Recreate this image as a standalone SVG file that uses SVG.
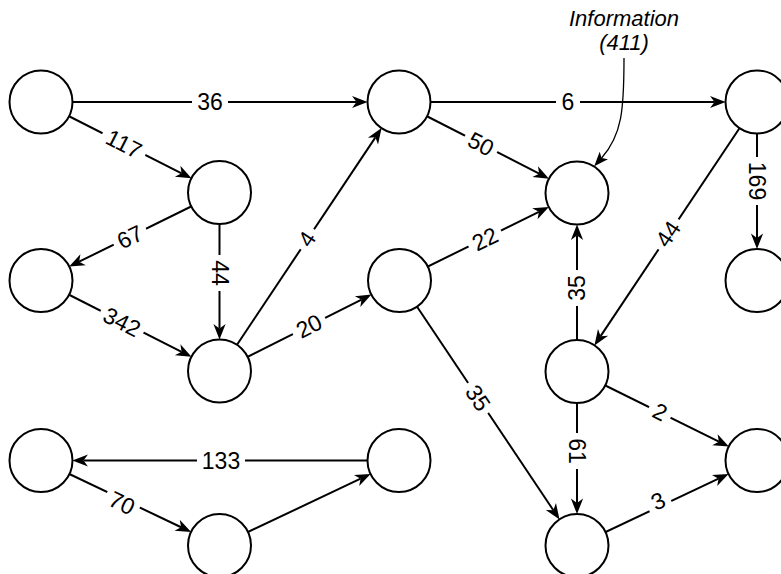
<svg xmlns="http://www.w3.org/2000/svg" width="781" height="574" viewBox="0 0 781 574">
<style>
.n{fill:#fff;stroke:#000;stroke-width:2}
.e{fill:none;stroke:#000;stroke-width:2;marker-end:url(#arr)}
.c{fill:none;stroke:#000;stroke-width:1.3;marker-end:url(#arr2)}
.bg{fill:#fff}
.t{font-family:"Liberation Sans",Arial,Helvetica,sans-serif;font-size:23px;fill:#000;text-anchor:middle}
.i{font-style:italic;font-size:22px}
</style>
<defs>
<marker id="arr" markerUnits="userSpaceOnUse" markerWidth="20" markerHeight="20" viewBox="-6 -8 18 16" refX="0" refY="0" orient="auto" overflow="visible">
<path d="M10,0 L-4,-5.5 L0,0 L-4,5.5 Z" fill="#000"/>
</marker>
<marker id="arr2" markerUnits="userSpaceOnUse" markerWidth="20" markerHeight="20" viewBox="-6 -8 18 16" refX="0" refY="0" orient="auto" overflow="visible">
<path d="M10,0 L-3,-5 L0,0 L-3,5 Z" fill="#000"/>
</marker>
</defs>
<rect width="781" height="574" fill="#fff"/>
<g id="connectors">
<path class="e" d="M41,102 L356.5,102"/>
<path class="e" d="M399,102 L714.5,102"/>
<path class="e" d="M41,102 L181.59,173.28"/>
<path class="e" d="M399,102 L539.16,173.65"/>
<path class="e" d="M219.5,192.5 L79.12,261.71"/>
<path class="e" d="M219.5,192.5 L219.5,328.5"/>
<path class="e" d="M41,280.5 L181.59,351.78"/>
<path class="e" d="M219.5,371 L375.41,137.35"/>
<path class="e" d="M219.5,371 L361.53,299.59"/>
<path class="e" d="M399.5,280.5 L538.88,211.79"/>
<path class="e" d="M399.5,280.5 L553.35,510.19"/>
<path class="e" d="M757,102 L600.6,336.16"/>
<path class="e" d="M577,371.5 L577,235.5"/>
<path class="e" d="M577,371.5 L718.9,441.66"/>
<path class="e" d="M577,371.5 L577,503"/>
<path class="e" d="M577,545.5 L718.57,478.65"/>
<path class="e" d="M757,102 L757,238"/>
<path class="e" d="M399,460.5 L83.5,460.5"/>
<path class="e" d="M41,460.5 L181.13,527.23"/>
<path class="e" d="M219.5,545.5 L360.59,478.69"/>
<path class="c" d="M624,58 C624,110 622,135 601.6,158"/>
</g>
<g id="labels">
<g transform="translate(210,102)"><rect class="bg" x="-18" y="-10" width="36" height="20"/><text class="t" y="8">36</text></g>
<g transform="translate(124,144) rotate(26.9)"><rect class="bg" x="-24" y="-10" width="48" height="20"/><text class="t" y="8">117</text></g>
<g transform="translate(568,102)"><rect class="bg" x="-12" y="-10" width="24" height="20"/><text class="t" y="8">6</text></g>
<g transform="translate(481,144) rotate(27)"><rect class="bg" x="-18" y="-10" width="36" height="20"/><text class="t" y="8">50</text></g>
<g transform="translate(757,181) rotate(90)"><rect class="bg" x="-24" y="-10" width="48" height="20"/><text class="t" y="8">169</text></g>
<g transform="translate(130,237) rotate(-26.2)"><rect class="bg" x="-18" y="-10" width="36" height="20"/><text class="t" y="8">67</text></g>
<g transform="translate(219.5,273) rotate(90)"><rect class="bg" x="-18" y="-10" width="36" height="20"/><text class="t" y="8">44</text></g>
<g transform="translate(122,322) rotate(26.9)"><rect class="bg" x="-24" y="-10" width="48" height="20"/><text class="t" y="8">342</text></g>
<g transform="translate(307,239) rotate(-56.3)"><rect class="bg" x="-12" y="-10" width="24" height="20"/><text class="t" y="8">4</text></g>
<g transform="translate(309,326) rotate(-26.7)"><rect class="bg" x="-18" y="-10" width="36" height="20"/><text class="t" y="8">20</text></g>
<g transform="translate(485,239) rotate(-26.1)"><rect class="bg" x="-18" y="-10" width="36" height="20"/><text class="t" y="8">22</text></g>
<g transform="translate(478,398) rotate(56.2)"><rect class="bg" x="-18" y="-10" width="36" height="20"/><text class="t" y="8">35</text></g>
<g transform="translate(668,234) rotate(-56.2)"><rect class="bg" x="-18" y="-10" width="36" height="20"/><text class="t" y="8">44</text></g>
<g transform="translate(577,288) rotate(-90)"><rect class="bg" x="-18" y="-10" width="36" height="20"/><text class="t" y="8">35</text></g>
<g transform="translate(660,412) rotate(26.3)"><rect class="bg" x="-12" y="-10" width="24" height="20"/><text class="t" y="8">2</text></g>
<g transform="translate(577,451) rotate(90)"><rect class="bg" x="-18" y="-10" width="36" height="20"/><text class="t" y="8">61</text></g>
<g transform="translate(658,501) rotate(-25.3)"><rect class="bg" x="-12" y="-10" width="24" height="20"/><text class="t" y="8">3</text></g>
<g transform="translate(221,460.5)"><rect class="bg" x="-24" y="-10" width="48" height="20"/><text class="t" y="8">133</text></g>
<g transform="translate(122,503) rotate(25.5)"><rect class="bg" x="-18" y="-10" width="36" height="20"/><text class="t" y="8">70</text></g>
</g>
<g id="annotation">
<text class="t i" x="624" y="26">Information</text>
<text class="t i" x="624" y="50">(411)</text>
</g>
<g id="nodes">
<circle id="nA" class="n" cx="41" cy="102" r="31.5"/>
<circle id="nB" class="n" cx="399" cy="102" r="31.5"/>
<circle id="nC" class="n" cx="757" cy="102" r="31.5"/>
<circle id="nD" class="n" cx="219.5" cy="192.5" r="31.5"/>
<circle id="nE" class="n" cx="577" cy="193" r="31.5"/>
<circle id="nF" class="n" cx="41" cy="280.5" r="31.5"/>
<circle id="nG" class="n" cx="399.5" cy="280.5" r="31.5"/>
<circle id="nH" class="n" cx="757" cy="280.5" r="31.5"/>
<circle id="nI" class="n" cx="219.5" cy="371" r="31.5"/>
<circle id="nJ" class="n" cx="577" cy="371.5" r="31.5"/>
<circle id="nK" class="n" cx="41" cy="460.5" r="31.5"/>
<circle id="nL" class="n" cx="399" cy="460.5" r="31.5"/>
<circle id="nM" class="n" cx="757" cy="460.5" r="31.5"/>
<circle id="nN" class="n" cx="219.5" cy="545.5" r="31.5"/>
<circle id="nO" class="n" cx="577" cy="545.5" r="31.5"/>
</g>
</svg>
